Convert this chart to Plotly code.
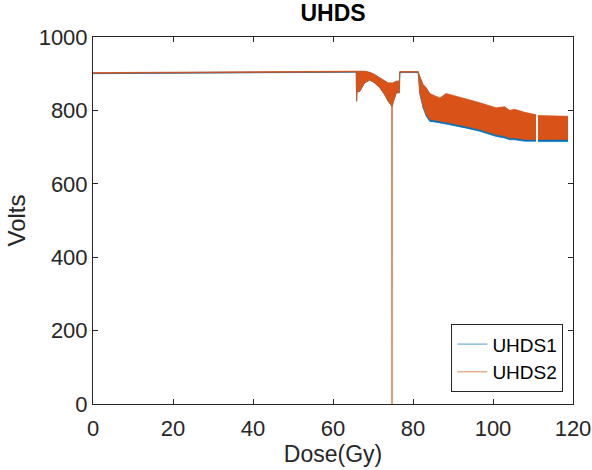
import plotly.graph_objects as go

# Dose (Gy) sample points; None marks the short gap in the record near 111 Gy
dose = [0, 20, 40, 60, 65.8, 65.9, 66.0, 66.7, 67.9, 69.2, 70.4, 71.7, 72.9, 73.8,
        74.7, 74.75, 74.8, 75.0, 75.85, 76.6, 76.7, 81.3, 81.7, 82.5, 83.3, 84.2,
        85.0, 86.7, 88.3, 90.0, 93.3, 96.7, 100.8, 102.9, 104.2, 105.4, 107.9,
        110.0, 110.75, None, 111.25, 115.0, 118.75]

# Upper / lower envelope of the (densely oscillating) voltage readings
uhds1_upper = [902, 903, 904, 905, 906, 906, 906, 906, 906, 903, 897, 888, 879, 874,
               874, 874, 874, 874, 879, 879, 905, 905, 891, 869, 860, 844,
               840, 832, 844, 839, 828, 819, 805, 808, 798, 801, 793,
               787, 786, None, 784, 784, 782]
uhds1_lower = [900, 901, 902, 903, 904, 825, 850, 852, 875, 883, 875, 862, 843, 825,
               811, 811, 811, 821, 848, 848, 903, 903, 845, 807, 784, 770,
               770, 766, 763, 759, 752, 743, 729, 725, 720, 720, 716,
               716, 716, None, 715, 715, 715]

uhds2_upper = [903, 904, 905, 906, 907, 907, 907, 907, 907, 904, 898, 889, 880, 875,
               875, 875, 875, 875, 880, 880, 906, 906, 893, 871, 862, 846,
               842, 834, 846, 841, 830, 821, 807, 810, 800, 803, 795,
               789, 788, None, 786, 786, 784]
uhds2_lower = [901, 902, 903, 904, 905, 825, 850, 852, 875, 883, 875, 862, 843, 825,
               811, 0, 811, 821, 848, 848, 904, 904, 848, 812, 789, 775,
               775, 771, 768, 764, 757, 748, 734, 730, 725, 725, 721,
               721, 721, None, 721, 721, 721]

x_ticks = [0, 20, 40, 60, 80, 100, 120]
y_ticks = [0, 200, 400, 600, 800, 1000]

C1 = "#0072BD"
C2 = "#D95319"


def band_polygon(xs, up, lo):
    """Build closed polygons (upper forward, lower back) per gap-free segment."""
    px, py = [], []
    seg = []
    for x, u, l in zip(xs + [None], up + [None], lo + [None]):
        if x is None:
            if seg:
                sx = [s[0] for s in seg]
                su = [s[1] for s in seg]
                sl = [s[2] for s in seg]
                px += sx + sx[::-1] + [sx[0], None]
                py += su + sl[::-1] + [su[0], None]
            seg = []
        else:
            seg.append((x, u, l))
    return px, py


fig = go.Figure()
for name, color, up, lo in [("UHDS1", C1, uhds1_upper, uhds1_lower),
                            ("UHDS2", C2, uhds2_upper, uhds2_lower)]:
    px, py = band_polygon(dose, up, lo)
    fig.add_trace(go.Scatter(x=px, y=py, mode="lines", fill="toself",
                             fillcolor=color, line=dict(color=color, width=0),
                             showlegend=False, hoverinfo="skip"))
    fig.add_trace(go.Scatter(x=dose, y=lo, mode="lines", name=name,
                             line=dict(color=color, width=0.7)))
    fig.add_trace(go.Scatter(x=dose, y=up, mode="lines", showlegend=False,
                             hoverinfo="skip", line=dict(color=color, width=0.7)))

axis_common = dict(showline=True, linecolor="#262626", linewidth=1, mirror="ticks",
                   ticks="inside", ticklen=5, tickcolor="#262626", showgrid=False,
                   zeroline=False, automargin=False,
                   tickfont=dict(family="Liberation Sans", size=22, color="#262626"))

W, H = 592, 470
L, R, T, B = 93, 19, 37, 66
fig.update_layout(
    width=W, height=H,
    margin=dict(l=L, r=R, t=T, b=B),
    paper_bgcolor="white", plot_bgcolor="white",
    font=dict(family="Liberation Sans", color="#262626"),
    title=dict(text="<b>UHDS</b>", x=(L + W - R) / 2 / W, xanchor="center",
               y=1 - 13 / H, yanchor="middle",
               font=dict(size=23, color="#000000")),
    xaxis=dict(range=[0, 120], tickvals=x_ticks, ticklabelstandoff=5,
               title=dict(text="Dose(Gy)", font=dict(size=23, color="#262626"), standoff=2),
               **axis_common),
    yaxis=dict(range=[0, 1000], tickvals=y_ticks,
               title=dict(text="Volts", font=dict(size=24, color="#262626"), standoff=6),
               **axis_common),
    legend=dict(x=0.98, y=0.032, xanchor="right", yanchor="bottom",
                bgcolor="white", bordercolor="#262626", borderwidth=1,
                font=dict(size=19, color="#000000"), tracegroupgap=0,
                itemwidth=30),
)

# remove the browser's default 8px page margin so the figure sits at (0, 0)
fig.write_html("out.html", config={"displayModeBar": False},
               post_script="document.body.style.margin='0';document.body.style.padding='0';")
